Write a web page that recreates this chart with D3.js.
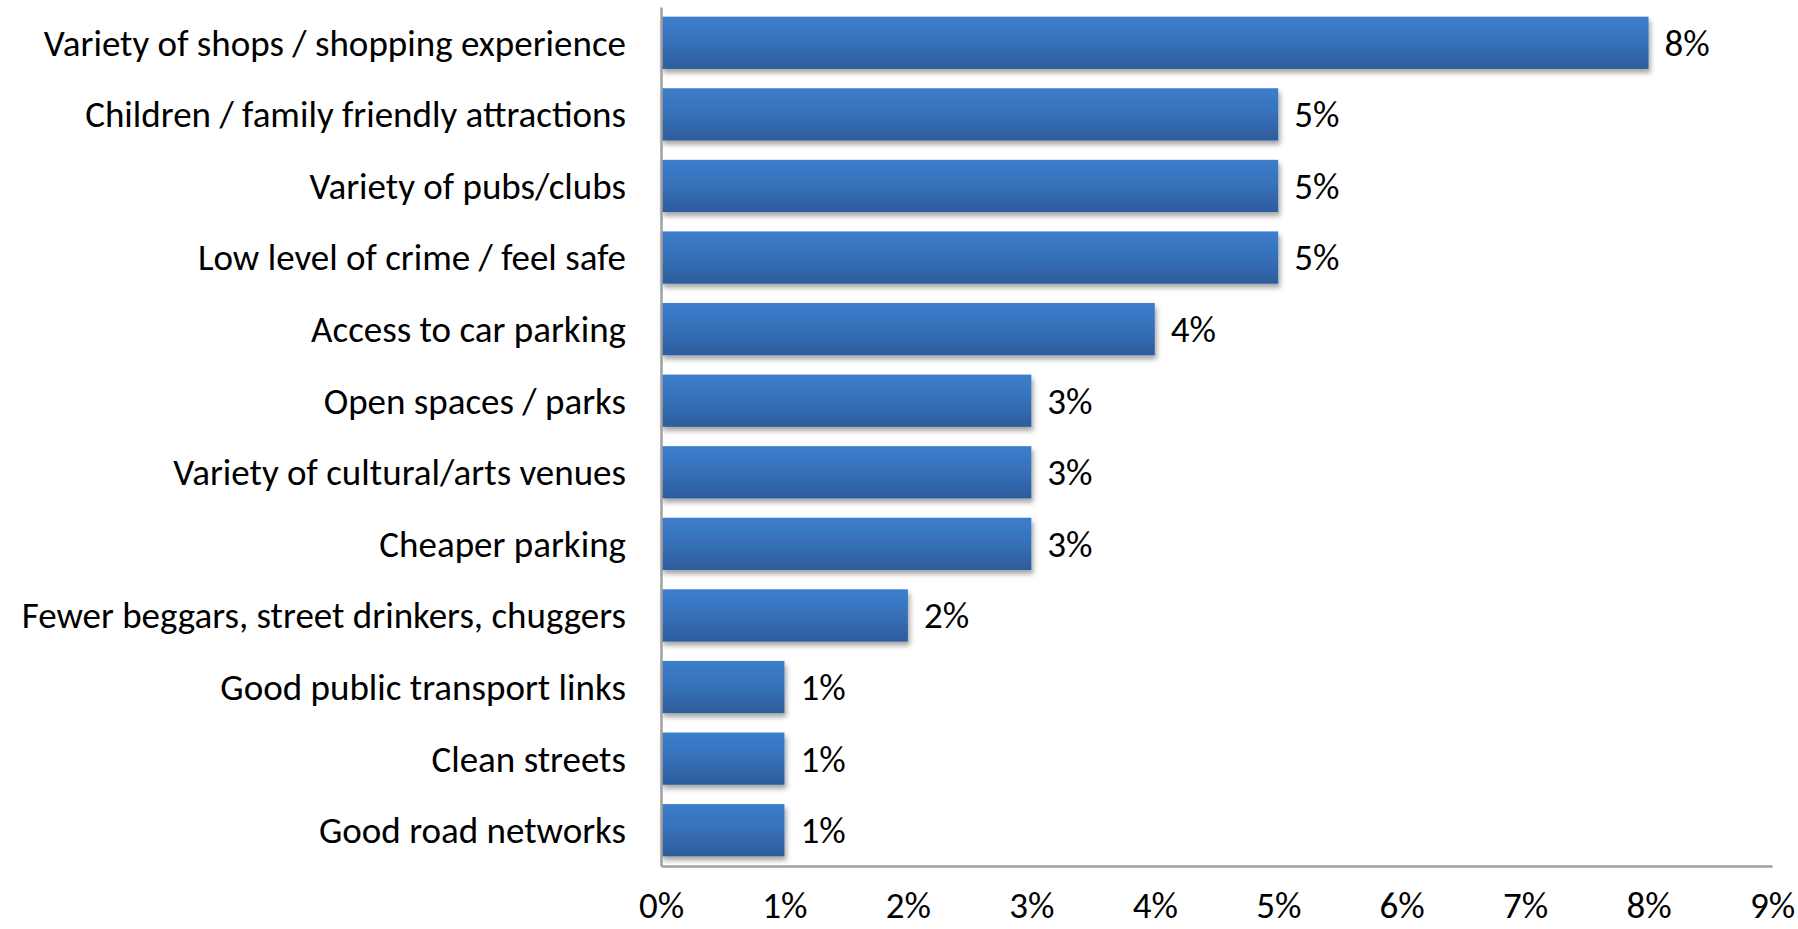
<!DOCTYPE html>
<html>
<head>
<meta charset="utf-8">
<script src="https://cdn.jsdelivr.net/npm/d3@7"></script>
<style>
  html, body { margin: 0; padding: 0; background: #fff; }
  svg { display: block; }
  text { font-family: Carlito, Calibri, Lato, "Open Sans", sans-serif; fill: #000; }
</style>
</head>
<body>
<svg id="chart" width="1798" height="929"></svg>
<script>
const categories = [
  "Variety of shops / shopping experience",
  "Children / family friendly attractions",
  "Variety of pubs/clubs",
  "Low level of crime / feel safe",
  "Access to car parking",
  "Open spaces / parks",
  "Variety of cultural/arts venues",
  "Cheaper parking",
  "Fewer beggars, street drinkers, chuggers",
  "Good public transport links",
  "Clean streets",
  "Good road networks"
];
const values = [8, 5, 5, 5, 4, 3, 3, 3, 2, 1, 1, 1];
const xTicks = [0, 1, 2, 3, 4, 5, 6, 7, 8, 9];

const svg = d3.select("#chart");
const mLeft = 661, mRight = 1772, mTop = 7, mBottom = 866;
const fs = 37;

const x = d3.scaleLinear().domain([0, 9]).range([mLeft, mRight]);
const y = d3.scaleBand().domain(categories).range([mTop, mBottom]).paddingInner(0.27).paddingOuter(0.135);

const defs = svg.append("defs");
const grad = defs.append("linearGradient").attr("id", "barGrad").attr("x1", 0).attr("y1", 0).attr("x2", 0).attr("y2", 1);
grad.append("stop").attr("offset", "0%").attr("stop-color", "#3c7ecd");
grad.append("stop").attr("offset", "50%").attr("stop-color", "#3670b8");
grad.append("stop").attr("offset", "100%").attr("stop-color", "#2d5c9b");
const f = defs.append("filter").attr("id", "shadow").attr("x", "-5%").attr("y", "-20%").attr("width", "115%").attr("height", "160%");
f.append("feDropShadow").attr("dx", 2).attr("dy", 4).attr("stdDeviation", 2.5).attr("flood-color", "#000").attr("flood-opacity", 0.35);

// bars
svg.append("g").selectAll("rect").data(values).join("rect")
  .attr("x", x(0))
  .attr("y", (d, i) => y(categories[i]))
  .attr("width", d => x(d) - x(0))
  .attr("height", y.bandwidth())
  .attr("fill", "url(#barGrad)")
  .attr("filter", "url(#shadow)");

// axes
const yAxis = d3.axisLeft(y).tickSize(0).tickPadding(35);
const gy = svg.append("g").attr("transform", `translate(${mLeft},0)`).call(yAxis);
gy.attr("font-family", null).attr("font-size", null);
gy.select(".domain").attr("stroke", "#a0a0a0").attr("stroke-width", 2.5);
gy.selectAll("text").attr("font-size", fs).attr("dy", "0.35em");

const xAxis = d3.axisBottom(x).tickValues(xTicks).tickFormat(d => d + "%").tickSize(0).tickPadding(26);
const gx = svg.append("g").attr("transform", `translate(0,${mBottom})`).call(xAxis);
gx.attr("font-family", null).attr("font-size", null);
gx.select(".domain").attr("stroke", "#a0a0a0").attr("stroke-width", 2.5);
gx.selectAll("text").attr("font-size", fs);
svg.selectAll(".tick text").attr("fill", "#000");

// value labels
svg.append("g").selectAll("text").data(values).join("text")
  .attr("x", d => x(d) + 16)
  .attr("y", (d, i) => y(categories[i]) + y.bandwidth() / 2)
  .attr("dy", "0.35em")
  .attr("font-size", fs)
  .text(d => d + "%");
</script>
</body>
</html>
